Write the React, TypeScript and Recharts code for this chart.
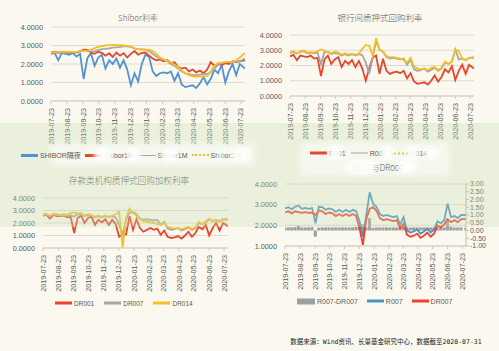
import React from 'react';
import { LineChart, Line, ComposedChart, Bar, XAxis, YAxis, CartesianGrid } from 'recharts';

// roughly weekly samples, 2019-07-23 .. 2020-07-31
const dates = [
  '2019-07-23', '2019-07-30', '2019-08-06', '2019-08-13', '2019-08-20', '2019-08-27', '2019-09-03', '2019-09-10', '2019-09-17', '2019-09-24',
  '2019-10-01', '2019-10-08', '2019-10-15', '2019-10-22', '2019-10-29', '2019-11-05', '2019-11-12', '2019-11-19', '2019-11-26', '2019-12-03',
  '2019-12-10', '2019-12-17', '2019-12-24', '2019-12-31', '2020-01-07', '2020-01-14', '2020-01-21', '2020-01-28', '2020-02-04', '2020-02-11',
  '2020-02-18', '2020-02-25', '2020-03-03', '2020-03-10', '2020-03-17', '2020-03-24', '2020-03-31', '2020-04-07', '2020-04-14', '2020-04-21',
  '2020-04-28', '2020-05-05', '2020-05-12', '2020-05-19', '2020-05-26', '2020-06-02', '2020-06-09', '2020-06-16', '2020-06-23', '2020-06-30',
  '2020-07-07', '2020-07-14', '2020-07-21', '2020-07-31',
];

const tickLabels = [
  '2019-07-23', '2019-08-23', '2019-09-23', '2019-10-23', '2019-11-23', '2019-12-23', '2020-01-23',
  '2020-02-23', '2020-03-23', '2020-04-23', '2020-05-23', '2020-06-23', '2020-07-23',
];

const shiborON = [2.55, 2.6, 2.2, 2.6, 2.55, 2.5, 2.6, 2.4, 2.55, 1.2,
  2.3, 2.6, 1.9, 2.35, 2.5, 1.75, 2.2, 2.0, 2.3, 1.8,
  2.2, 1.7, 0.85, 1.5, 1.05, 2.0, 2.5, 2.4, 1.6, 1.35,
  1.5, 1.55, 1.5, 1.6, 1.1, 1.5, 0.9, 0.75, 0.8, 0.85,
  0.7, 0.95, 1.3, 0.9, 1.2, 1.7, 1.5, 1.95, 1.0, 1.6,
  2.0, 1.4, 2.0, 1.75];
const shibor1W = [2.62, 2.66, 2.6, 2.64, 2.62, 2.6, 2.64, 2.62, 2.68, 2.78,
  2.76, 2.62, 2.55, 2.66, 2.6, 2.45, 2.58, 2.38, 2.62, 2.45,
  2.58, 2.35, 2.55, 2.7, 2.5, 2.6, 2.62, 2.45, 2.3, 2.2,
  2.25, 2.15, 2.2, 2.05, 2.1, 1.85, 1.75, 1.8, 1.6, 1.7,
  1.55, 1.65, 1.5, 1.7, 2.1, 1.9, 2.0, 1.95, 2.05, 2.0,
  2.15, 2.1, 2.15, 2.2];
const shibor1M = [2.6, 2.62, 2.63, 2.62, 2.62, 2.63, 2.65, 2.65, 2.68, 2.72,
  2.7, 2.68, 2.7, 2.75, 2.8, 2.82, 2.85, 2.88, 2.9, 2.92,
  2.95, 2.95, 2.93, 2.85, 2.8, 2.78, 2.78, 2.7, 2.55, 2.4,
  2.3, 2.25, 2.15, 2.0, 1.9, 1.75, 1.6, 1.5, 1.45, 1.4,
  1.4, 1.42, 1.45, 1.45, 1.55, 1.75, 1.95, 2.05, 2.1, 2.12,
  2.1, 2.12, 2.15, 2.3];
const shibor3M = [2.62, 2.64, 2.66, 2.67, 2.67, 2.66, 2.66, 2.66, 2.68, 2.7,
  2.72, 2.78, 2.85, 2.92, 2.97, 3.0, 3.02, 3.03, 3.02, 3.02,
  3.0, 2.98, 2.95, 2.85, 2.8, 2.8, 2.78, 2.78, 2.7, 2.55,
  2.35, 2.25, 2.15, 2.1, 1.95, 1.85, 1.65, 1.5, 1.4, 1.33,
  1.32, 1.32, 1.32, 1.35, 1.6, 1.9, 2.05, 2.08, 2.1, 2.1,
  2.12, 2.2, 2.35, 2.6];

const r001 = [2.6, 2.7, 2.35, 2.65, 2.6, 2.55, 2.65, 2.45, 2.5, 1.3,
  2.4, 2.65, 2.1, 2.4, 2.55, 1.9, 2.3, 2.1, 2.35, 1.9,
  2.3, 1.8, 1.0, 1.8, 2.5, 2.65, 1.45, 2.45, 1.65, 1.45,
  1.55, 1.6, 1.5, 1.65, 1.15, 1.5, 0.95, 0.8, 0.85, 0.9,
  0.75, 1.0, 1.35, 0.95, 1.25, 1.75, 1.55, 1.95, 1.05, 1.65,
  2.05, 1.45, 2.05, 1.8];
const r007 = [2.82, 2.88, 2.78, 2.9, 2.95, 2.8, 2.84, 2.8, 2.84, 2.1,
  2.9, 2.88, 2.75, 2.82, 2.78, 2.65, 2.75, 2.65, 2.75, 2.65,
  2.75, 2.68, 2.2, 1.45, 2.5, 3.6, 3.05, 2.9, 2.55, 2.45,
  2.5, 2.45, 2.4, 2.45, 2.05, 2.4, 1.75, 1.65, 1.7, 1.8,
  1.6, 1.7, 1.85, 1.65, 1.8, 2.2, 2.1, 2.25, 3.05, 2.4,
  2.45, 2.35, 2.5, 2.5];
const r014 = [2.88, 2.92, 2.8, 2.95, 2.98, 2.85, 2.88, 2.85, 2.95, 3.05,
  2.95, 2.9, 2.8, 2.9, 2.85, 2.72, 2.8, 2.72, 2.78, 2.72,
  2.78, 3.1, 3.35, 3.3, 2.65, 3.8, 3.0, 2.92, 2.62, 2.55,
  2.55, 2.5, 2.45, 2.35, 2.2, 2.5, 1.95, 1.8, 1.75, 1.8,
  1.7, 1.85, 1.9, 1.7, 1.85, 2.25, 2.1, 2.25, 3.05, 2.95,
  2.45, 2.35, 2.5, 2.55];

const dr001 = [2.6, 2.65, 2.35, 2.65, 2.55, 2.55, 2.6, 2.45, 2.5, 1.2,
  2.4, 2.6, 2.0, 2.4, 2.5, 1.85, 2.25, 2.05, 2.3, 1.85,
  2.25, 1.9, 0.9, 1.1, 1.1, 2.55, 1.45, 2.3, 1.6, 1.3,
  1.45, 1.6, 1.45, 1.55, 1.05, 1.4, 0.9, 0.8, 0.85, 0.95,
  0.75, 1.0, 1.3, 0.9, 1.2, 1.7, 1.5, 1.85, 1.0, 1.6,
  2.0, 1.4, 2.0, 1.75];
const dr007 = [2.62, 2.68, 2.58, 2.68, 2.64, 2.6, 2.64, 2.6, 2.62, 2.5,
  2.72, 2.68, 2.55, 2.62, 2.58, 2.45, 2.55, 2.45, 2.55, 2.45,
  2.55, 2.45, 1.85, 1.05, 2.3, 2.8, 2.88, 2.7, 2.35, 2.25,
  2.3, 2.25, 2.2, 2.25, 1.85, 2.1, 1.55, 1.45, 1.5, 1.6,
  1.4, 1.5, 1.65, 1.45, 1.6, 2.0, 1.9, 2.05, 2.3, 2.15,
  2.25, 2.15, 2.3, 2.3];
const dr014 = [2.7, 2.75, 2.55, 2.75, 2.7, 2.65, 2.7, 2.65, 2.8, 2.85,
  2.75, 2.8, 2.6, 2.7, 2.65, 2.5, 2.6, 2.5, 2.6, 2.5,
  2.6, 2.7, 2.9, 0.05, 2.4, 3.15, 2.8, 2.6, 2.3, 2.15,
  2.1, 2.05, 2.0, 1.9, 1.85, 2.0, 1.7, 1.6, 1.55, 1.6,
  1.5, 1.6, 1.7, 1.5, 1.65, 2.1, 1.9, 2.15, 2.35, 2.1,
  2.2, 2.1, 2.25, 2.25];

const BG = '#fbf9ef';
const GRID = '#dedbd2';
const TXT = '#595959';
const FONT = "'Liberation Sans', Arial, 'Noto Sans CJK SC', sans-serif";
const BLUE = '#5193d2';
const RED = '#e8462b';
const GRAY = '#a6a6a6';
const GOLD = '#f5c026';

const day0 = Date.UTC(2019, 6, 23);
const toDay = (s: string) => {
  const [y, m, d] = s.split('-').map(Number);
  return Math.round((Date.UTC(y, m - 1, d) - day0) / 86400000);
};
const tickDays = tickLabels.map(toDay);
const lastDay = toDay(dates[dates.length - 1]);

const rows = dates.map((d, i) => ({
  t: toDay(d),
  shiborON: shiborON[i], shibor1W: shibor1W[i], shibor1M: shibor1M[i], shibor3M: shibor3M[i],
  r001: r001[i], r007: r007[i], r014: r014[i],
  dr001: dr001[i], dr007: dr007[i], dr014: dr014[i],
  spread: +(r007[i] - dr007[i]).toFixed(2),
}));

const DateTick = ({ x, y, payload }: any) => {
  const idx = tickDays.indexOf(payload.value);
  return (
    <text x={x} y={y} transform={`rotate(-90 ${x} ${y})`} textAnchor="end" dy="0.35em"
      fontSize={7.2} fill={TXT} fontFamily={FONT}>
      {idx >= 0 ? tickLabels[idx] : ''}
    </text>
  );
};

// y labels drawn by hand so none get dropped
const ValueTick = ({ x, y, payload, digits = 4, anchor = 'end', size = 7.3 }: any) => (
  <text x={x} y={y} textAnchor={anchor} dy="0.35em" fontSize={size} fill={TXT} fontFamily={FONT}>
    {Number(payload.value).toFixed(digits)}
  </text>
);

const xAxisProps = {
  dataKey: 't', type: 'number' as const, domain: [0, lastDay], ticks: tickDays, interval: 0 as const,
  tick: <DateTick />, stroke: '#cfccc4', tickSize: 3, tickMargin: 4, allowDataOverflow: true,
};
const yLeft = { axisLine: false, tickLine: false, interval: 0 as const, minTickGap: 0, tick: <ValueTick /> };

function Title({ x, y, size = 8.5, children }: { x: number; y: number; size?: number; children: React.ReactNode }) {
  return (
    <div style={{
      position: 'absolute', left: x, top: y, transform: 'translate(-50%, -50%)', whiteSpace: 'nowrap',
      fontSize: size, color: TXT, fontFamily: "'Noto Sans CJK SC', sans-serif", fontWeight: 300,
    }}>{children}</div>
  );
}

type Item = { label: string; color: string; kind: 'line' | 'thin' | 'dots' | 'box' };
function Legend({ x, y, items, gap = 5, size = 7 }: { x: number; y: number; items: Item[]; gap?: number; size?: number }) {
  return (
    <div style={{
      position: 'absolute', left: x, top: y, transform: 'translateY(-50%)', display: 'flex',
      alignItems: 'center', gap, whiteSpace: 'nowrap', fontFamily: FONT, fontSize: size, color: TXT,
    }}>
      {items.map((it) => (
        <div key={it.label} style={{ display: 'flex', alignItems: 'center', gap: 2 }}>
          {it.kind === 'box'
            ? <span style={{ width: 18, height: 6, background: it.color }} />
            : <span style={{
              width: 17, height: 0,
              borderTop: `${it.kind === 'thin' ? 1.5 : it.kind === 'dots' ? 2.5 : 3}px ${it.kind === 'dots' ? 'dotted' : 'solid'} ${it.color}`,
            }} />}
          <span>{it.label}</span>
        </div>
      ))}
    </div>
  );
}

// soft white patches that sit over parts of the legends
function Blob({ x, y, w, h }: { x: number; y: number; w: number; h: number }) {
  return <div style={{
    position: 'absolute', left: x, top: y, width: w, height: h, background: '#fff', borderRadius: '50%',
    filter: 'blur(2px)', opacity: 0.92, pointerEvents: 'none',
  }} />;
}

const lineProps = { type: 'linear' as const, dot: false, isAnimationActive: false, strokeWidth: 1.8 };

export default function App() {
  return (
    <div style={{ position: 'absolute', left: 0, top: 0, width: 499, height: 351, background: BG, overflow: 'hidden' }}>
      {/* Shibor */}
      <div style={{ position: 'absolute', left: 0, top: 0 }}>
        <LineChart width={250} height={150} data={rows} margin={{ top: 27, right: 5, left: 0, bottom: 0 }}>
          <CartesianGrid vertical={false} stroke={GRID} />
          <XAxis {...xAxisProps} height={49} />
          <YAxis width={51} domain={[0, 4]} ticks={[0, 1, 2, 3, 4]} {...yLeft} />
          <Line {...lineProps} dataKey="shiborON" stroke={BLUE} />
          <Line {...lineProps} dataKey="shibor1W" stroke={RED} />
          <Line {...lineProps} dataKey="shibor1M" stroke={GRAY} />
          <Line {...lineProps} dataKey="shibor3M" stroke={GOLD} />
        </LineChart>
      </div>
      <Title x={138} y={17} size={8}>Shibor利率</Title>

      {/* 银行间质押式回购 */}
      <div style={{ position: 'absolute', left: 250, top: 0 }}>
        <LineChart width={249} height={146} data={rows} margin={{ top: 35, right: 25, left: 0, bottom: 0 }}>
          <CartesianGrid vertical={false} stroke={GRID} />
          <XAxis {...xAxisProps} height={50} />
          <YAxis width={40} domain={[0, 4]} ticks={[0, 1, 2, 3, 4]} {...yLeft} />
          <Line {...lineProps} dataKey="r001" stroke={RED} />
          <Line {...lineProps} dataKey="r007" stroke={GRAY} />
          <Line {...lineProps} dataKey="r014" stroke={GOLD} />
        </LineChart>
      </div>
      <Title x={380} y={17}>银行间质押式回购利率</Title>

      {/* 存款类机构 */}
      <div style={{ position: 'absolute', left: 0, top: 160 }}>
        <LineChart width={250} height={140} data={rows} margin={{ top: 38, right: 22, left: 0, bottom: 0 }}>
          <CartesianGrid vertical={false} stroke={GRID} />
          <XAxis {...xAxisProps} height={52} />
          <YAxis width={43} domain={[0, 4]} ticks={[0, 1, 2, 3, 4]} {...yLeft} />
          <Line {...lineProps} dataKey="dr001" stroke={RED} />
          <Line {...lineProps} dataKey="dr007" stroke={GRAY} />
          <Line {...lineProps} dataKey="dr014" stroke={GOLD} />
        </LineChart>
      </div>
      <Title x={129} y={180} size={8.6}>存款类机构质押式回购加权利率</Title>
      <Legend x={55} y={303} gap={10} size={6.5} items={[
        { label: 'DR001', color: RED, kind: 'line' },
        { label: 'DR007', color: GRAY, kind: 'line' },
        { label: 'DR014', color: GOLD, kind: 'line' },
      ]} />

      {/* R007 vs DR007 */}
      <div style={{ position: 'absolute', left: 250, top: 160 }}>
        <ComposedChart width={249} height={140} data={rows} margin={{ top: 24, right: 0, left: 0, bottom: 0 }}>
          <CartesianGrid vertical={false} stroke={GRID} yAxisId="left" />
          <XAxis {...xAxisProps} height={54} />
          <YAxis yAxisId="left" width={35} domain={[1, 4]} ticks={[1, 2, 3, 4]} allowDataOverflow {...yLeft} />
          <YAxis yAxisId="right" orientation="right" width={33} domain={[-1, 3]} allowDataOverflow interval={0}
            minTickGap={0} ticks={[-1, -0.5, 0, 0.5, 1, 1.5, 2, 2.5, 3]} stroke="#bfbcb4" tickSize={3} tickMargin={1}
            tick={<ValueTick digits={2} anchor="start" size={7} />} />
          <Bar yAxisId="right" dataKey="spread" fill="#9f9f9f" barSize={4} isAnimationActive={false} />
          <Line {...lineProps} yAxisId="left" dataKey="r007" stroke="#4a91c4" />
          <Line {...lineProps} yAxisId="left" dataKey="dr007" stroke="#f0432a" />
        </ComposedChart>
      </div>
      <Legend x={297} y={301} gap={9} items={[
        { label: 'R007-DR007', color: '#9f9f9f', kind: 'box' },
        { label: 'R007', color: '#4a91c4', kind: 'line' },
        { label: 'DR007', color: '#f0432a', kind: 'line' },
      ]} />

      <div style={{
        position: 'absolute', left: 386, top: 341, transform: 'translate(-50%, -50%)', whiteSpace: 'nowrap',
        fontSize: 6.5, color: '#222', fontFamily: "'DejaVu Sans Mono', 'Noto Sans CJK SC', monospace",
      }}>数据来源：Wind资讯、长量基金研究中心，数据截至2020-07-31</div>

      {/* green band */}
      <div style={{ position: 'absolute', left: 0, top: 123, width: 499, height: 104, background: 'rgba(198,222,176,0.32)', pointerEvents: 'none' }} />
      {/* whitish strips over the legend rows */}
      <div style={{ position: 'absolute', left: 50, top: 143, width: 205, height: 23, background: 'rgba(255,255,255,0.55)', filter: 'blur(3px)' }} />
      <div style={{ position: 'absolute', left: 300, top: 142, width: 150, height: 34, background: 'rgba(255,255,255,0.55)', filter: 'blur(3px)' }} />

      <Legend x={21} y={155} gap={4} items={[
        { label: 'SHIBOR隔夜', color: BLUE, kind: 'line' },
        { label: 'Shibor1W', color: RED, kind: 'line' },
        { label: 'Shibor1M', color: GRAY, kind: 'thin' },
        { label: 'Shibor3M', color: GOLD, kind: 'dots' },
      ]} />
      <Legend x={310} y={153} gap={5} items={[
        { label: 'R001', color: RED, kind: 'line' },
        { label: 'R007', color: GRAY, kind: 'thin' },
        { label: 'R014', color: GOLD, kind: 'dots' },
      ]} />
      <Title x={378} y={167}>R007与DR007</Title>

      <Blob x={94} y={148} w={20} h={14} />
      <Blob x={127} y={148} w={13} h={14} />
      <Blob x={161} y={148} w={17} h={14} />
      <Blob x={218} y={149} w={5} h={12} />
      <Blob x={230} y={148} w={20} h={14} />
      <Blob x={329} y={146} w={13} h={14} />
      <Blob x={380} y={146} w={14} h={14} />
      <Blob x={407} y={146} w={12} h={14} />
      <Blob x={424} y={146} w={14} h={14} />
      <Blob x={345} y={160} w={32} h={14} />
      <Blob x={398} y={160} w={18} h={14} />
    </div>
  );
}
